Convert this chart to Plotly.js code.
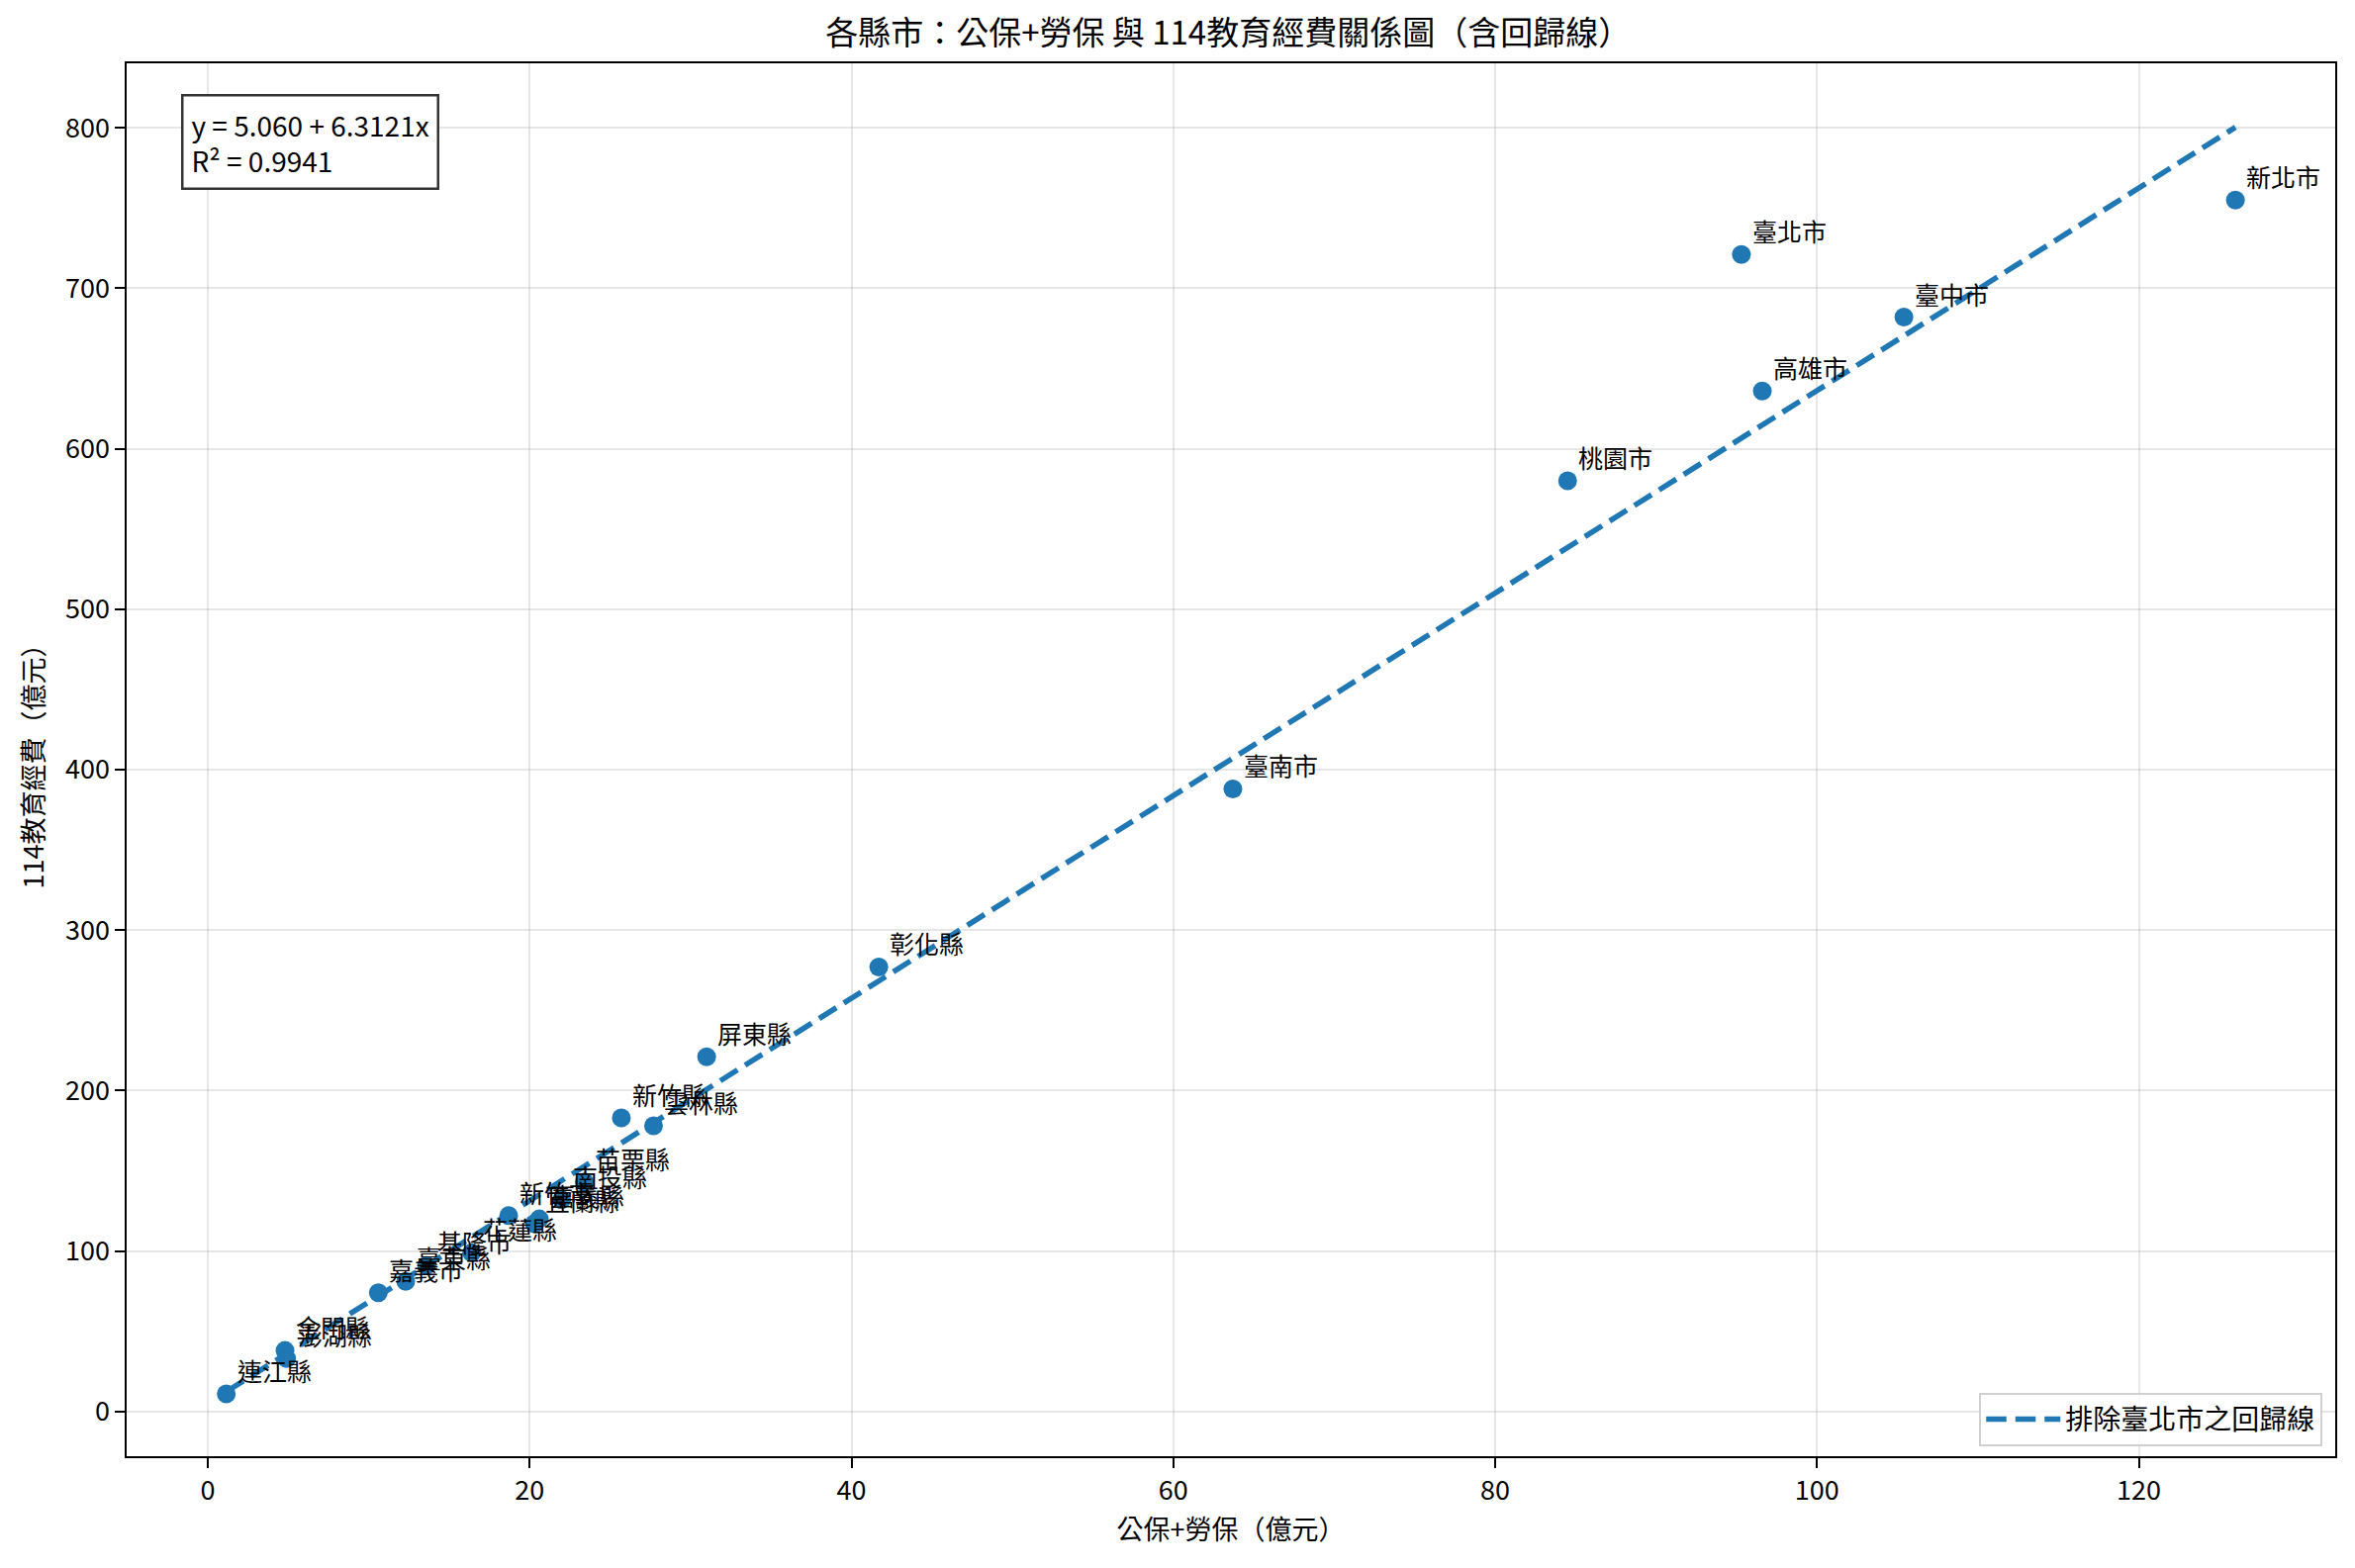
<!DOCTYPE html>
<html>
<head>
<meta charset="utf-8">
<script src="https://cdn.plot.ly/plotly-3.0.1.min.js"></script>
<style>
  html, body { margin: 0; padding: 0; background: #fff; }
  #chart { width: 2380px; height: 1585px; }
</style>
</head>
<body>
<div id="chart"></div>
<script>
// 各縣市資料（億元），數值由原圖讀取
var counties = ['新北市', '臺北市', '臺中市', '高雄市', '桃園市', '臺南市',
                '彰化縣', '屏東縣', '新竹縣', '雲林縣', '苗栗縣', '南投縣',
                '嘉義縣', '宜蘭縣', '新竹市', '花蓮縣', '基隆市', '臺東縣',
                '嘉義市', '金門縣', '澎湖縣', '連江縣'];

var insurance = [126.0, 95.3, 105.4, 96.6, 84.5, 63.7,
                 41.7, 31.0, 25.7, 27.7, 23.4, 22.0,
                 20.6, 20.3, 18.7, 16.4, 13.6, 12.3,
                 10.6, 4.8, 4.9, 1.15];

var eduBudget = [755, 721, 682, 636, 580, 388,
                 277, 221, 183, 178, 143, 132,
                 120, 117, 122, 99, 91, 81,
                 74, 38, 33, 11];

// 排除臺北市之回歸結果
var fitIntercept = 5.060;
var fitSlope = 6.3121;
var fitR2 = 0.9941;

var font = 'Noto Sans CJK TC, Noto Sans CJK JP, sans-serif';
var blue = '#1f77b4';

var xMin = Math.min.apply(null, insurance);
var xMax = Math.max.apply(null, insurance);
var lineX = [xMin, xMax];
var lineY = lineX.map(function (v) { return fitIntercept + fitSlope * v; });

var points = {
  x: insurance,
  y: eduBudget,
  text: counties,
  mode: 'markers',
  type: 'scatter',
  showlegend: false,
  marker: { color: blue, size: 19 },
  hoverinfo: 'text+x+y'
};

var fitLine = {
  x: lineX,
  y: lineY,
  mode: 'lines',
  type: 'scatter',
  name: '排除臺北市之回歸線',
  line: { color: blue, width: 5.5, dash: '20.5px,9px' }
};

var labels = counties.map(function (name, i) {
  return {
    x: insurance[i],
    y: eduBudget[i],
    xref: 'x',
    yref: 'y',
    text: name,
    showarrow: false,
    xanchor: 'left',
    yanchor: 'bottom',
    xshift: 9,
    yshift: 4,
    font: { family: font, size: 25, color: '#000' }
  };
});

labels.push({
  xref: 'paper',
  yref: 'paper',
  x: 0.0247,
  y: 0.9783,
  xanchor: 'left',
  yanchor: 'top',
  align: 'left',
  showarrow: false,
  text: 'y = ' + fitIntercept.toFixed(3) + ' + ' + fitSlope.toFixed(4) + 'x<br>R² = ' + fitR2.toFixed(4),
  font: { family: font, size: 28, color: '#000' },
  bgcolor: '#ffffff',
  bordercolor: '#333333',
  borderwidth: 2.5,
  borderpad: 8
});

var axisCommon = {
  showline: true,
  mirror: true,
  linecolor: '#000',
  linewidth: 2.2,
  ticks: 'outside',
  ticklen: 9.5,
  tickwidth: 2.2,
  tickcolor: '#000',
  showgrid: true,
  gridcolor: 'rgba(176,176,176,0.32)',
  gridwidth: 2,
  zeroline: false,
  tickfont: { family: font, size: 27, color: '#000' }
};

var layout = {
  width: 2380,
  height: 1585,
  margin: { l: 127.5, r: 20, t: 64, b: 113 },
  paper_bgcolor: '#fff',
  plot_bgcolor: '#fff',
  font: { family: font, color: '#000' },
  title: {
    text: '各縣市：公保+勞保 與 114教育經費關係圖（含回歸線）',
    font: { family: font, size: 33, color: '#000' },
    x: 0.5215,
    xanchor: 'center',
    y: 0.979,
    yanchor: 'middle'
  },
  xaxis: Object.assign({}, axisCommon, {
    range: [-5.04, 132.2],
    dtick: 20,
    tick0: 0,
    title: { text: '公保+勞保（億元）', font: { family: font, size: 27 }, standoff: 14 }
  }),
  yaxis: Object.assign({}, axisCommon, {
    range: [-27.9, 840.2],
    dtick: 100,
    tick0: 0,
    title: { text: '114教育經費（億元）', font: { family: font, size: 27 }, standoff: 14 }
  }),
  legend: {
    x: 0.9943,
    xanchor: 'right',
    y: 0.0073,
    yanchor: 'bottom',
    bgcolor: 'rgba(255,255,255,0.8)',
    bordercolor: '#d0d0d0',
    borderwidth: 2,
    itemwidth: 75,
    font: { family: font, size: 28, color: '#000' }
  },
  annotations: labels
};

Plotly.newPlot('chart', [points, fitLine], layout, { displayModeBar: false, responsive: false });
</script>
</body>
</html>
